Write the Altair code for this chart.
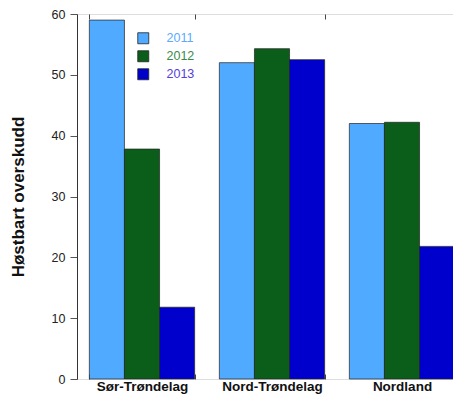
import altair as alt
import pandas as pd

regions = ["Sør-Trøndelag", "Nord-Trøndelag", "Nordland"]
years = ["2011", "2012", "2013"]
v2011 = [59.0, 52.0, 42.0]
v2012 = [37.8, 54.3, 42.2]
v2013 = [11.8, 52.5, 21.8]
bar_colors = ["#50AAFF", "#0A5E1A", "#0000CC"]
label_colors = ["#5AAAFF", "#3B8A48", "#5540D8"]
yticks = [0, 10, 20, 30, 40, 50, 60]

rows = []
for i, r in enumerate(regions):
    for yr, vals in zip(years, [v2011, v2012, v2013]):
        rows.append({"region": r, "year": yr, "value": vals[i]})
df = pd.DataFrame(rows)

font = "Liberation Sans"
xscale = alt.Scale(domain=regions, paddingInner=0.19, paddingOuter=0.095)
yscale = alt.Scale(domain=[0, 60], nice=False)

label_expr = (
    f"datum.label == '{years[0]}' ? '{label_colors[0]}' : "
    f"datum.label == '{years[1]}' ? '{label_colors[1]}' : '{label_colors[2]}'"
)

bars = alt.Chart(df).mark_bar(stroke="#222", strokeWidth=0.7).encode(
    x=alt.X(
        "region:N", scale=xscale, sort=regions, title=None,
        axis=alt.Axis(orient="bottom", offset=-5, domain=False, tickBand="extent",
                      tickSize=5, tickColor="#444", labelFont=font, labelFontSize=13.5,
                      labelFontWeight="bold", labelColor="#111", labelPadding=11,
                      labelBaseline="alphabetic", labelAngle=0),
    ),
    xOffset=alt.XOffset("year:N", sort=years),
    y=alt.Y(
        "value:Q", scale=yscale, title="Høstbart overskudd",
        axis=alt.Axis(orient="left", values=yticks, tickSize=7, tickColor="#555",
                      domainColor="#333", labelFont=font, labelFontSize=12.5,
                      labelColor="#222", labelPadding=5, grid=False,
                      titleFont=font, titleFontSize=17, titleFontWeight="bold",
                      titleColor="#111", titlePadding=24),
    ),
    color=alt.Color(
        "year:N",
        scale=alt.Scale(domain=years, range=bar_colors),
        legend=alt.Legend(
            title=None, orient="none", legendX=60, legendY=18, padding=0,
            symbolType="square", symbolSize=121, symbolStrokeColor="#222",
            symbolStrokeWidth=0.8, labelOffset=17, rowPadding=3,
            labelFont=font, labelFontSize=12.5,
            labelColor={"expr": label_expr},
        ),
    ),
)

frame = alt.Chart(df).mark_point(opacity=0).encode(
    x=alt.X(
        "region:N", scale=xscale, sort=regions, title=None,
        axis=alt.Axis(orient="top", offset=-5, domain=False, labels=False,
                      tickBand="extent", tickSize=5, tickColor="#444"),
    ),
    y=alt.Y(
        "value:Q", scale=yscale, title=None,
        axis=alt.Axis(orient="right", offset=-5, domain=False, labels=False,
                      values=yticks, tickSize=5, tickColor="#666", grid=False),
    ),
)

chart = alt.layer(bars, frame).resolve_axis(x="independent", y="independent").properties(
    width=390, height=365,
    autosize=alt.AutoSizeParams(type="none"),
    padding={"left": 69, "top": 6, "right": -14, "bottom": 16},
).configure_view(stroke="#888", strokeWidth=1).configure(background="white")

chart.save("out.html", embed_options={"renderer": "svg", "actions": False})
